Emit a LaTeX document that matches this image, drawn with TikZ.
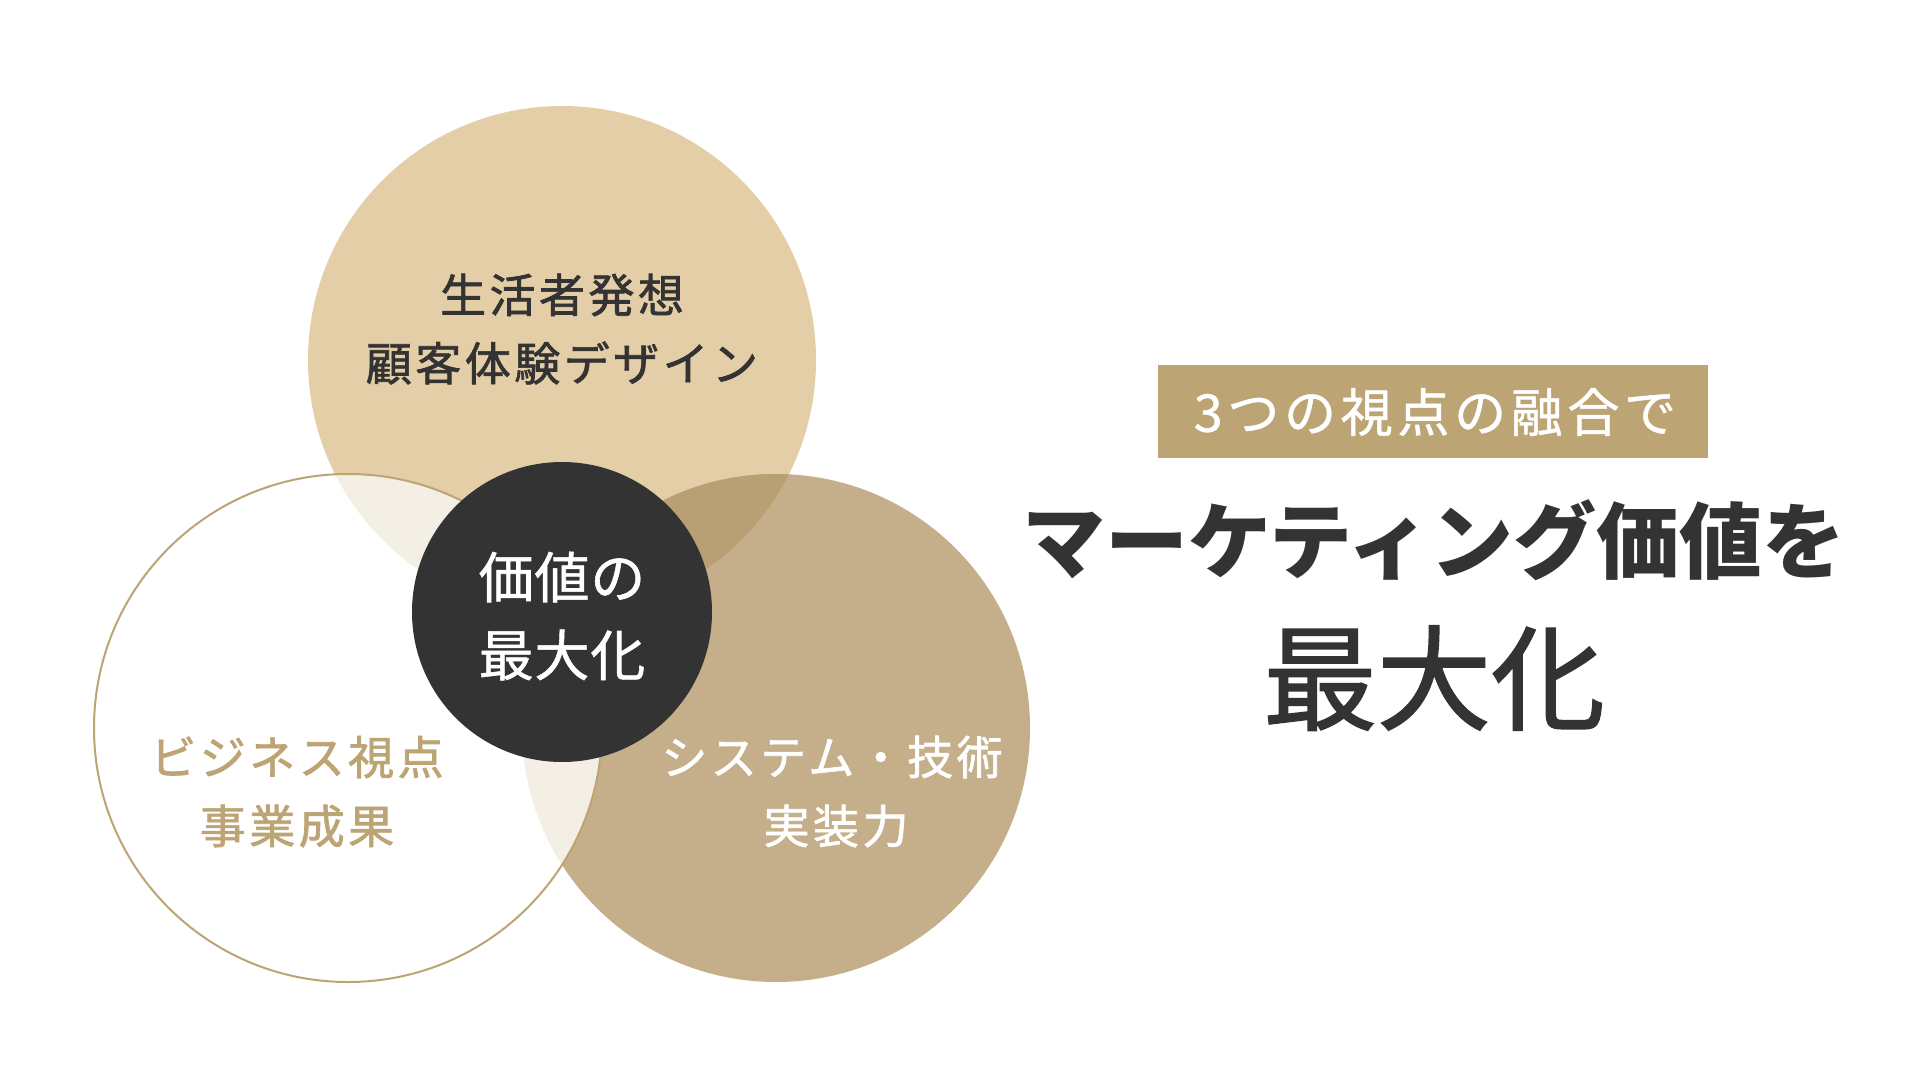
\documentclass[tikz,border=0pt]{standalone}
\usepackage{fontspec}
\setmainfont{Noto Sans CJK JP}
\newfontfamily\jpcirc[LetterSpace=7.5,FakeBold=1.5]{Noto Sans CJK JP}
\newfontfamily\jpmid[LetterSpace=1.5,FakeBold=1]{Noto Sans CJK JP}
\newfontfamily\jpbox[LetterSpace=9,FakeBold=1]{Noto Sans CJK JP}
\newfontfamily\jphead{Noto Sans CJK JP}
\newfontfamily\jpbig[FakeBold=1.5]{Noto Sans CJK JP}
\definecolor{topc}{HTML}{E3CEA8}
\definecolor{rightc}{HTML}{C5AF8A}
\definecolor{trc}{HTML}{B9A074}
\definecolor{lightc}{HTML}{F4EFE4}
\definecolor{gold}{HTML}{BDA474}
\definecolor{dark}{HTML}{333333}
\tikzset{
  circtext/.style={font=\jpcirc\fontsize{46}{50}\selectfont, inner sep=0pt, anchor=center},
  midtext/.style={font=\jpmid\fontsize{55}{60}\selectfont, inner sep=0pt, text=white, anchor=center},
}
\begin{document}
\begin{tikzpicture}[x=1pt,y=-1pt]
\useasboundingbox (0,0) rectangle (1920,1068);
\fill[white] (0,0) rectangle (1920,1068);
% circles
\def\rad{254}
\coordinate (ct) at (562,360);
\coordinate (cl) at (348,728);
\coordinate (cr) at (776,728);
\coordinate (cm) at (562,612);
\fill[topc] (ct) circle[radius=\rad];
\fill[rightc] (cr) circle[radius=\rad];
\begin{scope}
  \clip (ct) circle[radius=\rad];
  \fill[trc] (cr) circle[radius=\rad];
\end{scope}
\fill[white] (cl) circle[radius=\rad];
\begin{scope}
  \clip (cl) circle[radius=\rad];
  \fill[lightc] (ct) circle[radius=\rad];
  \fill[lightc] (cr) circle[radius=\rad];
\end{scope}
\draw[gold, line width=2pt] (cl) circle[radius=\rad];
\fill[dark] (cm) circle[radius=150];
% texts
\node[circtext, text=dark] (t1) at (562,295) {生活者発想};
\node[circtext, text=dark] (t2) at (562,363) {顧客体験デザイン};
\node[midtext] (m1) at (562,577) {価値の};
\node[midtext] (m2) at (562,655) {最大化};
\node[circtext, text=gold] (l1) at (297,757) {ビジネス視点};
\node[circtext, text=gold] (l2) at (297,826) {事業成果};
\node[circtext, text=white] (r1) at (832,757) {システム・技術};
\node[circtext, text=white] (r2) at (836,826) {実装力};
% right side
\fill[gold] (1158,365) rectangle (1708,458);
\node[font=\jpbox\fontsize{52}{56}\selectfont, text=white, inner sep=0pt] (box) at (1435,412) {3つの視点の融合で};
\node[font=\jphead\bfseries\fontsize{83}{90}\selectfont, text=dark, inner sep=0pt] (h1) at (1434,540) {マーケティング価値を};
\node[font=\jpbig\fontsize{114}{120}\selectfont, text=dark, inner sep=0pt] (h2) at (1434,678) {最大化};
\end{tikzpicture}
\end{document}
